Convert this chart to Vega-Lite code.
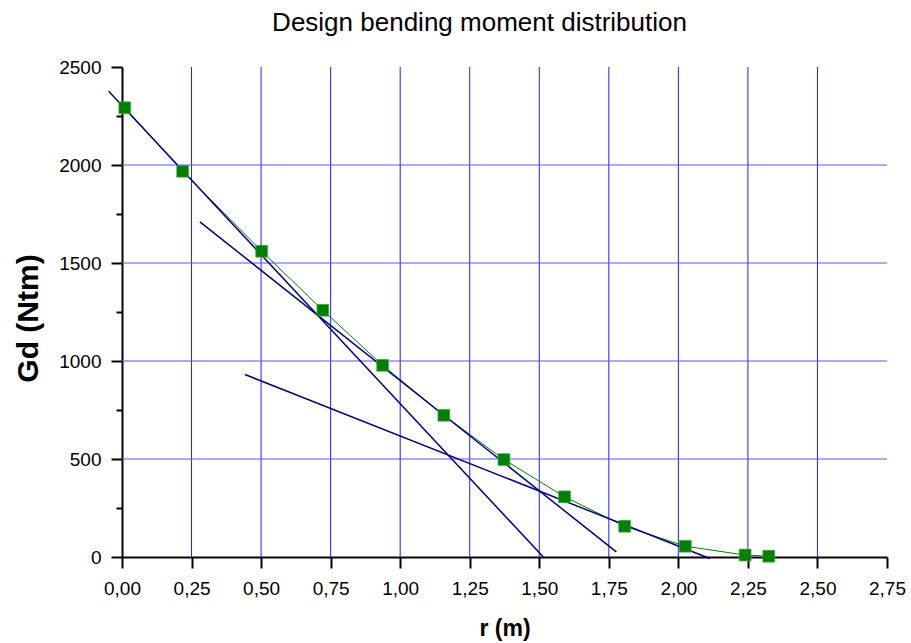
{
  "$schema": "https://vega.github.io/schema/vega-lite/v6.json",
  "autosize": "none",
  "width": 765,
  "height": 490,
  "padding": {"left": 122, "top": 67, "right": 24, "bottom": 86},
  "background": "white",
  "title": {
    "text": "Design bending moment distribution",
    "font": "Liberation Sans",
    "fontSize": 26,
    "fontWeight": "normal",
    "color": "black",
    "anchor": "middle",
    "frame": "group",
    "baseline": "alphabetic",
    "offset": 1,
    "dx": -25
  },
  "config": {
    "view": {"stroke": null},
    "axis": {
      "labelFont": "Liberation Sans",
      "titleFont": "Liberation Sans",
      "labelColor": "black",
      "titleColor": "black",
      "domainColor": "black",
      "tickColor": "black",
      "domainWidth": 2,
      "tickWidth": 2,
      "labelOverlap": false,
      "labelFlush": false,
      "labelBound": false,
      "grid": false
    }
  },
  "datasets": {
    "points": [
      {"r": 0.01, "gd": 2292},
      {"r": 0.218, "gd": 1968},
      {"r": 0.502, "gd": 1560},
      {"r": 0.722, "gd": 1259},
      {"r": 0.937, "gd": 978},
      {"r": 1.157, "gd": 723},
      {"r": 1.373, "gd": 497},
      {"r": 1.591, "gd": 307},
      {"r": 1.807, "gd": 157},
      {"r": 2.025, "gd": 55},
      {"r": 2.24, "gd": 10},
      {"r": 2.325, "gd": 4}
    ],
    "tangents": [
      {"line": "A", "order": 1, "r": -0.048, "gd": 2376},
      {"line": "A", "order": 2, "r": 1.517, "gd": -4},
      {"line": "B", "order": 1, "r": 0.28, "gd": 1710},
      {"line": "B", "order": 2, "r": 1.777, "gd": 26},
      {"line": "C", "order": 1, "r": 0.442, "gd": 931},
      {"line": "C", "order": 2, "r": 2.113, "gd": -8}
    ],
    "vgrid": [
      {"r": 0.25}, {"r": 0.5}, {"r": 0.75}, {"r": 1.0}, {"r": 1.25},
      {"r": 1.5}, {"r": 1.75}, {"r": 2.0}, {"r": 2.25}, {"r": 2.5}
    ],
    "hgrid": [
      {"gd": 500}, {"gd": 1000}, {"gd": 1500}, {"gd": 2000}
    ]
  },
  "layer": [
    {
      "data": {"name": "vgrid"},
      "mark": {"type": "rule", "color": "#1f1fff", "strokeWidth": 1},
      "encoding": {
        "x": {
          "field": "r",
          "type": "quantitative",
          "scale": {"domain": [0, 2.75], "nice": false, "zero": false},
          "axis": {
            "title": "r (m)",
            "titleFontSize": 23,
            "titleFontWeight": "bold",
            "titleBaseline": "alphabetic",
            "titleY": 78,
            "labelFontSize": 19,
            "labelPadding": 11,
            "values": [0, 0.125, 0.25, 0.375, 0.5, 0.625, 0.75, 0.875, 1, 1.125, 1.25, 1.375, 1.5, 1.625, 1.75, 1.875, 2, 2.125, 2.25, 2.375, 2.5, 2.625, 2.75],
            "labelExpr": "abs(datum.value*4 - round(datum.value*4)) > 0.01 ? '' : replace(format(datum.value, '.2f'), '.', ',')",
            "tickSize": {"condition": {"test": "abs(datum.value*4 - round(datum.value*4)) > 0.01", "value": 6}, "value": 11}
          }
        }
      }
    },
    {
      "data": {"name": "hgrid"},
      "mark": {"type": "rule", "color": "#5555ff", "strokeWidth": 1},
      "encoding": {
        "y": {
          "field": "gd",
          "type": "quantitative",
          "scale": {"domain": [0, 2500], "nice": false, "zero": false},
          "axis": {
            "title": "Gd (Ntm)",
            "titleFontSize": 30,
            "titleFontWeight": "bold",
            "titleAngle": -90,
            "titleAlign": "center",
            "titleBaseline": "alphabetic",
            "titleX": -85,
            "titleY": 251,
            "labelFontSize": 19,
            "labelPadding": 10,
            "values": [0, 250, 500, 750, 1000, 1250, 1500, 1750, 2000, 2250, 2500],
            "labelExpr": "datum.value % 500 == 0 ? format(datum.value, 'd') : ''",
            "tickSize": {"condition": {"test": "datum.value % 500 != 0", "value": 6}, "value": 11}
          }
        }
      }
    },
    {
      "data": {"name": "points"},
      "mark": {"type": "line", "color": "#008000", "strokeWidth": 1},
      "encoding": {
        "x": {"field": "r", "type": "quantitative"},
        "y": {"field": "gd", "type": "quantitative"}
      }
    },
    {
      "data": {"name": "tangents"},
      "mark": {"type": "line", "color": "#000080", "strokeWidth": 1.5},
      "encoding": {
        "x": {"field": "r", "type": "quantitative"},
        "y": {"field": "gd", "type": "quantitative"},
        "detail": {"field": "line"},
        "order": {"field": "order"}
      }
    },
    {
      "data": {"name": "points"},
      "mark": {"type": "square", "color": "#008000", "filled": true, "size": 140, "opacity": 1, "stroke": "#4ca64c", "strokeWidth": 0.7},
      "encoding": {
        "x": {"field": "r", "type": "quantitative"},
        "y": {"field": "gd", "type": "quantitative"}
      }
    }
  ]
}
